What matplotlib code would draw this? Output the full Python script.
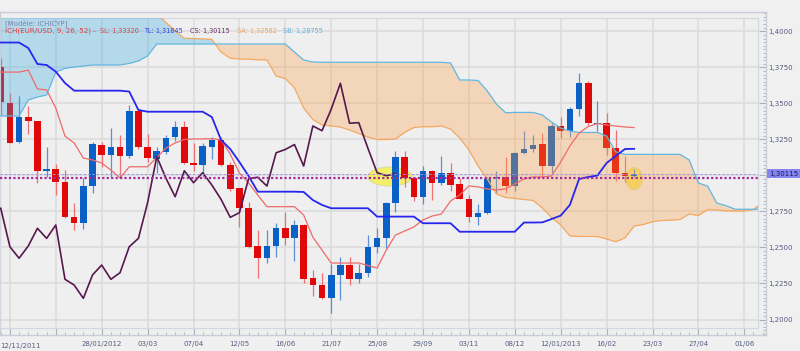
import matplotlib
matplotlib.use("Agg")
import matplotlib.pyplot as plt
from matplotlib.patches import Ellipse
from matplotlib.ticker import FixedLocator, MultipleLocator, FuncFormatter
import numpy as np

# weekly EUR/USD candles, week 0 = 12/11/2011
opens = [1.3754, 1.3505, 1.3230, 1.3407, 1.3380, 1.3033, 1.3042, 1.2956, 1.2709, 1.2672,
         1.2926, 1.3211, 1.3142, 1.3195, 1.3135, 1.3449, 1.3199, 1.3114, 1.3164, 1.3264,
         1.3338, 1.3088, 1.3072, 1.3199, 1.3246, 1.3072, 1.2910, 1.2776, 1.2510, 1.2425,
         1.2510, 1.2633, 1.2563, 1.2656, 1.2286, 1.2239, 1.2147, 1.2309, 1.2378, 1.2279,
         1.2325, 1.2500, 1.2563, 1.2811, 1.3130, 1.2980, 1.2852, 1.3032, 1.2949, 1.3019,
         1.2941, 1.2834, 1.2709, 1.2737, 1.2980, 1.2987, 1.2926, 1.3157, 1.3180, 1.3216,
         1.3065, 1.3343, 1.3310, 1.3459, 1.3639, 1.3357, 1.3362, 1.3188, 1.3019, 1.2998]
highs = [1.3815, 1.3570, 1.3551, 1.3482, 1.3380, 1.3199, 1.3079, 1.3037, 1.2806, 1.2980,
         1.3234, 1.3234, 1.3327, 1.3281, 1.3488, 1.3463, 1.3287, 1.3195, 1.3280, 1.3378,
         1.3378, 1.3227, 1.3227, 1.3264, 1.3266, 1.3093, 1.2915, 1.2817, 1.2621, 1.2621,
         1.2672, 1.2748, 1.2690, 1.2660, 1.2343, 1.2320, 1.2385, 1.2436, 1.2436, 1.2385,
         1.2586, 1.2633, 1.2815, 1.3171, 1.3171, 1.2985, 1.3065, 1.3035, 1.3135, 1.3084,
         1.2980, 1.2864, 1.2801, 1.2990, 1.3032, 1.3126, 1.3160, 1.3310, 1.3281, 1.3292,
         1.3362, 1.3403, 1.3473, 1.3709, 1.3657, 1.3518, 1.3431, 1.3315, 1.3137, 1.3042]
lows = [1.3420, 1.3223, 1.3227, 1.3287, 1.2945, 1.2989, 1.2864, 1.2704, 1.2621, 1.2626,
        1.2880, 1.3060, 1.2991, 1.2980, 1.3119, 1.3185, 1.3095, 1.3015, 1.3150, 1.3241,
        1.3080, 1.3033, 1.2991, 1.3111, 1.3065, 1.2895, 1.2644, 1.2495, 1.2286, 1.2390,
        1.2436, 1.2517, 1.2408, 1.2255, 1.2163, 1.2140, 1.2043, 1.2135, 1.2240, 1.2256,
        1.2293, 1.2464, 1.2494, 1.2748, 1.2922, 1.2824, 1.2801, 1.2829, 1.2935, 1.2889,
        1.2834, 1.2679, 1.2656, 1.2730, 1.2880, 1.2876, 1.2894, 1.3148, 1.3165, 1.2991,
        1.3015, 1.3257, 1.3269, 1.3412, 1.3350, 1.3310, 1.3142, 1.2963, 1.2956, 1.2990]
closes = [1.3509, 1.3227, 1.3403, 1.3378, 1.3033, 1.3041, 1.2956, 1.2709, 1.2672, 1.2926,
          1.3216, 1.3142, 1.3195, 1.3135, 1.3449, 1.3199, 1.3119, 1.3171, 1.3257, 1.3338,
          1.3088, 1.3072, 1.3204, 1.3246, 1.3072, 1.2904, 1.2772, 1.2505, 1.2425, 1.2510,
          1.2633, 1.2563, 1.2656, 1.2279, 1.2239, 1.2147, 1.2309, 1.2378, 1.2279, 1.2325,
          1.2505, 1.2563, 1.2811, 1.3130, 1.2980, 1.2852, 1.3032, 1.2949, 1.3019, 1.2933,
          1.2834, 1.2709, 1.2741, 1.2978, 1.2987, 1.2926, 1.3157, 1.3180, 1.3214, 1.3065,
          1.3343, 1.3310, 1.3459, 1.3639, 1.3362, 1.3366, 1.3188, 1.3019, 1.2998, 1.30115]

tenkan = [1.3717, 1.3717, 1.3717, 1.3731, 1.3600, 1.3593, 1.3467, 1.3273, 1.3225, 1.3120,
          1.3107, 1.3086, 1.3037, 1.2982, 1.3060, 1.3060, 1.3060, 1.3124, 1.3190, 1.3225,
          1.3249, 1.3253, 1.3253, 1.3255, 1.3246, 1.3148, 1.3017, 1.2947, 1.2864, 1.2783,
          1.2783, 1.2783, 1.2783, 1.2725, 1.2572, 1.2482, 1.2392, 1.2392, 1.2392, 1.2392,
          1.2375, 1.2357, 1.2482, 1.2586, 1.2614, 1.2642, 1.2691, 1.2718, 1.2732, 1.2822,
          1.2864, 1.2927, 1.2920, 1.2906, 1.2899, 1.2906, 1.2941, 1.2975, 1.2989, 1.2989,
          1.2996, 1.3093, 1.3204, 1.3294, 1.3339, 1.3360, 1.3350, 1.3343, 1.3336, 1.3332]
kijun = [1.3922, 1.3922, 1.3922, 1.3884, 1.3773, 1.3766, 1.3720, 1.3641, 1.3588, 1.3588,
         1.3588, 1.3588, 1.3588, 1.3588, 1.3582, 1.3454, 1.3442, 1.3442, 1.3442, 1.3442,
         1.3442, 1.3442, 1.3442, 1.3405, 1.3246, 1.3183, 1.3093, 1.2996, 1.2887, 1.2887,
         1.2887, 1.2887, 1.2887, 1.2885, 1.2829, 1.2795, 1.2772, 1.2772, 1.2772, 1.2772,
         1.2772, 1.2714, 1.2714, 1.2714, 1.2714, 1.2714, 1.2668, 1.2668, 1.2668, 1.2668,
         1.2609, 1.2609, 1.2609, 1.2609, 1.2609, 1.2609, 1.2609, 1.2673, 1.2673, 1.2674,
         1.2697, 1.2721, 1.2795, 1.2975, 1.2989, 1.2999, 1.3086, 1.3135, 1.3183, 1.31845]
# cloud, weeks 0..83 (already shifted 26 weeks ahead)
senkou_a = [1.4250, 1.4250, 1.4250, 1.4250, 1.4250, 1.4250, 1.4200, 1.4200, 1.4200, 1.4200,
            1.4200, 1.4200, 1.4200, 1.4200, 1.4200, 1.4180, 1.4150, 1.4121, 1.4062, 1.4004,
            1.3951, 1.3950, 1.3947, 1.3944, 1.3856, 1.3813, 1.3808, 1.3806, 1.3803, 1.3801,
            1.3690, 1.3672, 1.3607, 1.3468, 1.3388, 1.3350, 1.3343, 1.3336, 1.3315, 1.3291,
            1.3266, 1.3249, 1.3249, 1.3253, 1.3298, 1.3332, 1.3338, 1.3338, 1.3343, 1.3322,
            1.3260, 1.3176, 1.3065, 1.2975, 1.2871, 1.2847, 1.2840, 1.2833, 1.2826, 1.2774,
            1.2708, 1.2656, 1.2580, 1.2576, 1.2576, 1.2576, 1.2559, 1.2540, 1.2566, 1.2649,
            1.2659, 1.2679, 1.2687, 1.2690, 1.2694, 1.2732, 1.2722, 1.2763, 1.2760, 1.2754,
            1.2753, 1.2753, 1.2763, 1.2815]
senkou_b = [1.3412, 1.3412, 1.3412, 1.3523, 1.3544, 1.3558, 1.3718, 1.3742, 1.3752, 1.3759,
            1.3766, 1.3766, 1.3766, 1.3766, 1.3777, 1.3794, 1.3829, 1.3912, 1.3912, 1.3912,
            1.3912, 1.3912, 1.3912, 1.3912, 1.3912, 1.3912, 1.3912, 1.3912, 1.3912, 1.3912,
            1.3912, 1.3912, 1.3856, 1.3801, 1.3787, 1.3785, 1.3785, 1.3785, 1.3785, 1.3785,
            1.3785, 1.3785, 1.3785, 1.3785, 1.3785, 1.3785, 1.3785, 1.3785, 1.3785, 1.3780,
            1.3662, 1.3662, 1.3659, 1.3586, 1.3495, 1.3435, 1.3437, 1.3437, 1.3437, 1.3420,
            1.3370, 1.3329, 1.3308, 1.3298, 1.3298, 1.3298, 1.3273, 1.3164, 1.3146, 1.3146,
            1.3146, 1.3146, 1.3146, 1.3146, 1.3146, 1.3107, 1.2947, 1.2926, 1.2808, 1.2790,
            1.2765, 1.2765, 1.2765, 1.2765]

support_level = 1.2984
date_weeks = [11, 16, 21, 26, 31, 36, 41, 46, 51, 56, 61, 66, 71, 76, 81]
date_labels = ["28/01/2012", "03/03", "07/04", "12/05", "16/06", "21/07", "25/08",
               "29/09", "03/11", "08/12", "12/01/2013", "16/02", "23/03", "27/04", "01/06"]
first_label = "12/11/2011"

fig = plt.figure(figsize=(8.0, 3.51), dpi=100, facecolor="#f0f0f0")
plt.rcParams["font.family"] = ["DejaVu Sans"]

W, H = 800.0, 351.0
px_week = 9.18
x_origin = 0.72
def week_at(px):
    return (px - x_origin) / px_week
def price_at(py):
    return 1.4 - (py - 31.3) / 1441.0

# outer frame (ticks + labels)
fr = fig.add_axes([0, 1 - 335 / H, 765.7 / W, (335 - 11.7) / H])
fr.set_facecolor("#efefef")
fr.set_xlim(week_at(0), week_at(765.7))
fr.set_ylim(price_at(335), price_at(11.7))
for s in fr.spines.values():
    s.set_color("#c9ced9")
    s.set_linewidth(1.0)
fr.xaxis.set_major_locator(FixedLocator(list(range(1, 82, 5))))
fr.xaxis.set_minor_locator(MultipleLocator(1))
fr.set_xticklabels(["" if w not in date_weeks else date_labels[date_weeks.index(w)]
                    for w in range(1, 82, 5)])
fr.yaxis.tick_right()
fr.yaxis.set_major_locator(MultipleLocator(0.025))
fr.yaxis.set_minor_locator(MultipleLocator(0.0025))

def price_label(v, pos):
    # the last-price box hides the 1,3000 label
    if abs(v - closes[-1]) < 0.006:
        return ""
    return f"{v:.4f}".replace(".", ",")

fr.yaxis.set_major_formatter(FuncFormatter(price_label))
fr.tick_params(which="both", direction="in", color="#a9b0c0", labelsize=5,
               labelcolor="#555d80")
fr.tick_params(which="major", length=5)
fr.tick_params(which="minor", length=2)
fr.tick_params(axis="x", pad=4)
fr.tick_params(axis="y", pad=2)
fr.text(0.0, -0.026, first_label, transform=fr.transAxes, ha="left", va="top",
        fontsize=5, color="#555d80")
fr.text(1.004, closes[-1], f"{closes[-1]:.5f}".replace(".", ","),
        transform=fr.get_yaxis_transform(), ha="left", va="center", fontsize=5,
        color="#1a1a50", bbox=dict(boxstyle="square,pad=0.25", fc="#8585f2", ec="none"))

# plot area
ax = fig.add_axes([0, 1 - 328 / H, 757.7 / W, (328 - 18) / H], zorder=2)
ax.patch.set_visible(False)
ax.set_xlim(week_at(0), week_at(757.7))
ax.set_ylim(price_at(328), price_at(18))
for s in ax.spines.values():
    s.set_color("#d3d7e0")
ax.set_xticks(range(1, 82, 5))
ax.set_yticks(np.arange(1.2, 1.401, 0.025))
ax.tick_params(length=0, labelbottom=False, labelleft=False)
ax.grid(True, color="#dcdcdc", lw=1.2, zorder=0)
ax.set_axisbelow(True)

weeks = np.arange(len(closes))
o = np.array(opens); c = np.array(closes)
up = c >= o
body_lo = np.minimum(o, c)
body_h = np.maximum(np.abs(c - o), 0.0005)
ax.vlines(weeks[up], np.array(lows)[up], np.array(highs)[up], color="#5b8fd6", lw=0.9, zorder=2)
ax.vlines(weeks[~up], np.array(lows)[~up], np.array(highs)[~up], color="#ee7070", lw=0.9, zorder=2)
ax.bar(weeks[up], body_h[up], bottom=body_lo[up], width=0.72, color="#0a60c4", zorder=2.5)
ax.bar(weeks[~up], body_h[~up], bottom=body_lo[~up], width=0.72, color="#e00808", zorder=2.5)

# cloud
cw = np.arange(len(senkou_a))
sa = np.array(senkou_a); sb = np.array(senkou_b)
ax.fill_between(cw, sa, sb, where=sa >= sb, interpolate=True, color="#2ea8e5",
                alpha=0.3, lw=0, zorder=3)
ax.fill_between(cw, sa, sb, where=sa < sb, interpolate=True, color="#ff9f3c",
                alpha=0.3, lw=0, zorder=3)
ax.plot(cw, sa, color="#f5a862", lw=0.9, zorder=4)
ax.plot(cw, sb, color="#62b6df", lw=0.9, zorder=4)

# highlight ellipses
ax.add_patch(Ellipse((42.4, 1.2992), 4.8, 0.0132, fc="#f4f050", ec="#d6d49a",
                     lw=0.6, alpha=0.85, zorder=1.8))
ax.add_patch(Ellipse((69.0, 1.2978), 1.8, 0.0153, fc="#f4e45a", ec="#d6d49a",
                     lw=0.6, alpha=0.85, zorder=1.8))

ax.plot(weeks, tenkan, color="#f06a6a", lw=0.9, zorder=4)
ax.plot(weeks, kijun, color="#2626ee", lw=1.3, zorder=4)
lag = 26
ax.plot(weeks[:-lag], c[lag:], color="#56184e", lw=1.2, zorder=4)

ax.axhline(closes[-1], color="#a194e6", lw=0.7, ls=(0, (2.5, 2)), zorder=5)
ax.axhline(support_level, color="#a42a9c", lw=1.6, ls=(0, (1, 1)), zorder=5)

# header
fig.text(5 / W, 1 - 22.7 / H, "[Modèle: ICHICYP]", fontsize=5.0, color="#7a86a8", va="center")
header = [(5, "ICH(EUR/USD, 9, 26, 52) -", "#e83a3a", 5.1),
          (100, "SL: 1,33320", "#e83a3a", 4.7),
          (144.3, "TL: 1,31845", "#3a3ae6", 4.7),
          (190, "CS: 1,30115", "#6a2a66", 4.7),
          (236.7, "SA: 1,32582", "#f2a462", 4.7),
          (283.3, "SB: 1,28755", "#55b2e2", 4.7)]
for hx, txt, col, fs in header:
    fig.text(hx / W, 1 - 30.7 / H, txt, fontsize=fs, color=col, va="center")

fig.savefig("out.png", dpi=100, facecolor=fig.get_facecolor())
